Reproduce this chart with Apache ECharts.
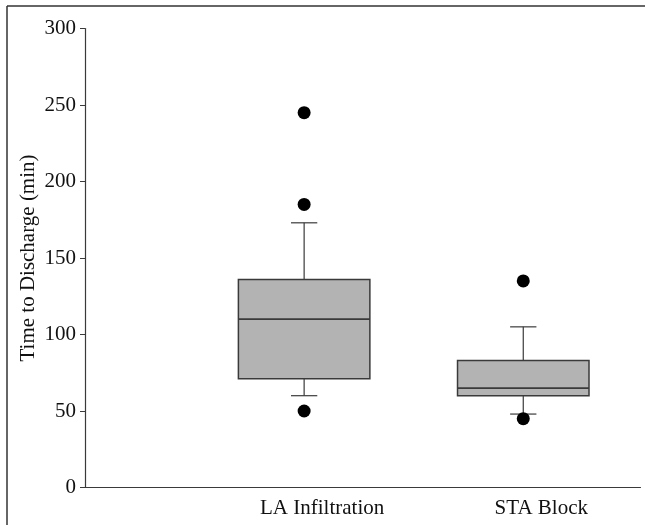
<!DOCTYPE html>
<html>
<head>
<meta charset="utf-8">
<script src="https://cdn.jsdelivr.net/npm/echarts@6/dist/echarts.min.js"></script>
<style>
  html, body { margin: 0; padding: 0; background: #fff; }
  #chart { width: 645px; height: 525px; }
</style>
</head>
<body>
<div id="chart"></div>
<script>
// groups on the x axis
const categories = ["LA Infiltration", "STA Block"];
// box stats per group: [x, lower whisker, Q1, median, Q3, upper whisker]
const boxStats = [
  [1, 60, 71, 110, 136, 173],
  [2, 48, 60, 65, 83, 105]
];
// outlier points: [x, value]
const outliers = [
  [1, 245], [1, 185], [1, 50],
  [2, 135], [2, 45]
];
const yTicks = [0, 50, 100, 150, 200, 250, 300];

const axisColor = "#3a3a3a";
const boxHalf = 0.3;   // in x data units
const capHalf = 0.06;

let myChart = echarts.init(document.getElementById("chart"));

function renderBox(params, api) {
  let x = api.value(0);
  let lo = api.coord([x, api.value(1)]);
  let q1 = api.coord([x, api.value(2)]);
  let med = api.coord([x, api.value(3)]);
  let q3 = api.coord([x, api.value(4)]);
  let hi = api.coord([x, api.value(5)]);
  let left = api.coord([x - boxHalf, 0])[0];
  let right = api.coord([x + boxHalf, 0])[0];
  let cl = api.coord([x - capHalf, 0])[0];
  let cr = api.coord([x + capHalf, 0])[0];
  let line = { stroke: axisColor, lineWidth: 1.2 };
  return {
    type: "group",
    children: [
      { type: "line", shape: { x1: hi[0], y1: hi[1], x2: q3[0], y2: q3[1] }, style: line },
      { type: "line", shape: { x1: cl, y1: hi[1], x2: cr, y2: hi[1] }, style: line },
      { type: "line", shape: { x1: lo[0], y1: lo[1], x2: q1[0], y2: q1[1] }, style: line },
      { type: "line", shape: { x1: cl, y1: lo[1], x2: cr, y2: lo[1] }, style: line },
      {
        type: "rect",
        shape: { x: left, y: q3[1], width: right - left, height: q1[1] - q3[1] },
        style: { fill: "#b3b3b3", stroke: axisColor, lineWidth: 1.5 }
      },
      { type: "line", shape: { x1: left, y1: med[1], x2: right, y2: med[1] }, style: { stroke: axisColor, lineWidth: 1.8 } }
    ]
  };
}

let option = {
  animation: false,
  textStyle: { fontFamily: "Liberation Serif" },
  graphic: [
    { type: "line", shape: { x1: 7, y1: 6, x2: 645, y2: 6 }, style: { stroke: "#333", lineWidth: 1.5 } },
    { type: "line", shape: { x1: 7, y1: 6, x2: 7, y2: 525 }, style: { stroke: "#333", lineWidth: 1.5 } }
  ],
  grid: { left: 85, right: 4.5, top: 28.5, bottom: 37.5 },
  xAxis: {
    type: "value",
    min: 0,
    max: 2.535,
    interval: 1,
    axisLine: { lineStyle: { color: axisColor, width: 1.2 } },
    axisTick: { show: false },
    splitLine: { show: false },
    axisLabel: {
      color: "#111",
      fontSize: 21,
      margin: 10,
      padding: [0, 0, 0, 36],
      showMaxLabel: false,
      formatter: v => categories[v - 1] || ""
    }
  },
  yAxis: {
    type: "value",
    min: yTicks[0],
    max: yTicks[yTicks.length - 1],
    interval: 50,
    name: "Time to Discharge (min)",
    nameLocation: "middle",
    nameGap: 46,
    nameMoveOverlap: false,
    nameTextStyle: { color: "#111", fontSize: 21 },
    axisLine: { show: true, lineStyle: { color: axisColor, width: 1.2 } },
    axisTick: { show: true, length: 5, lineStyle: { color: axisColor } },
    splitLine: { show: false },
    axisLabel: { color: "#111", fontSize: 21, margin: 9 }
  },
  series: [
    {
      type: "custom",
      renderItem: renderBox,
      encode: { x: 0, y: [1, 2, 3, 4, 5] },
      data: boxStats
    },
    {
      type: "scatter",
      symbol: "circle",
      symbolSize: 13,
      itemStyle: { color: "#000", opacity: 1 },
      data: outliers
    }
  ]
};
myChart.setOption(option);
</script>
</body>
</html>
